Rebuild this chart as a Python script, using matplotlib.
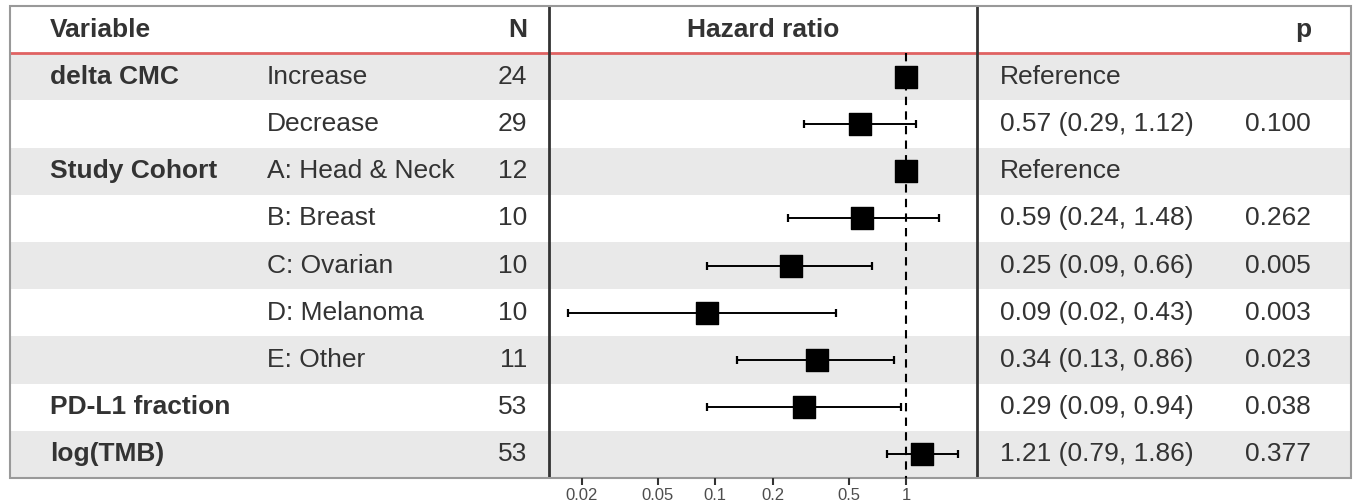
import numpy as np
import matplotlib.pyplot as plt
from matplotlib.ticker import FixedLocator, NullLocator

plt.rcParams['font.family'] = ['Liberation Sans', 'DejaVu Sans']

variables = ['delta CMC', '', 'Study Cohort', '', '', '', '', 'PD-L1 fraction', 'log(TMB)']
levels = ['Increase', 'Decrease', 'A: Head & Neck', 'B: Breast', 'C: Ovarian',
          'D: Melanoma', 'E: Other', '', '']
n_obs = [24, 29, 12, 10, 10, 10, 11, 53, 53]
hr = [1.0, 0.57, 1.0, 0.59, 0.25, 0.09, 0.34, 0.29, 1.21]
ci_low = [np.nan, 0.29, np.nan, 0.24, 0.09, 0.017, 0.13, 0.09, 0.79]
ci_high = [np.nan, 1.12, np.nan, 1.48, 0.66, 0.43, 0.86, 0.94, 1.86]
p_values = ['', '0.100', '', '0.262', '0.005', '0.003', '0.023', '0.038', '0.377']
is_reference = [True, False, True, False, False, False, False, False, False]
x_ticks = [0.02, 0.05, 0.1, 0.2, 0.5, 1]
x_tick_labels = ['0.02', '0.05', '0.1', '0.2', '0.5', '1']

W, H = 1356, 504
fig = plt.figure(figsize=(W / 100, H / 100), dpi=100)

def px_rect(x0, y0, x1, y1):
    return [x0 / W, 1 - y1 / H, (x1 - x0) / W, (y1 - y0) / H]

left, right, top, bottom = 10, 1351, 6, 478
split1, split2 = 549, 977
nrows = len(levels)
ylim = (nrows + 0.5, -0.5)

text_color = '#333333'
fs = 19

# background table, x in pixels
bg = fig.add_axes(px_rect(left, top, right, bottom))
bg.set_xlim(left, right)
bg.set_ylim(*ylim)
bg.axis('off')
for i in range(nrows):
    if i % 2 == 0:
        bg.axhspan(i + 0.5, i + 1.5, color='#e9e9e9', lw=0, zorder=0)
bg.axhline(0.5, color='#e06262', lw=2, zorder=3)
for xs in (split1, split2):
    bg.axvline(xs, color='#333333', lw=2, zorder=3)
bg.add_patch(plt.Rectangle((left, -0.5), right - left, nrows + 1, fill=False,
                           ec='#999999', lw=1.5, zorder=4, clip_on=False))

# header
bg.text(50, 0, 'Variable', ha='left', va='center', fontsize=fs, weight='bold', color=text_color)
bg.text(527, 0, 'N', ha='right', va='center', fontsize=fs, weight='bold', color=text_color)
bg.text((split1 + split2) / 2, 0, 'Hazard ratio', ha='center', va='center', fontsize=fs,
        weight='bold', color=text_color)
bg.text(1311, 0, 'p', ha='right', va='center', fontsize=fs, weight='bold', color=text_color)

for i in range(nrows):
    y = i + 1
    bg.text(50, y, variables[i], ha='left', va='center', fontsize=fs, weight='bold', color=text_color)
    bg.text(267, y, levels[i], ha='left', va='center', fontsize=fs, color=text_color)
    bg.text(527, y, str(n_obs[i]), ha='right', va='center', fontsize=fs, color=text_color)
    if is_reference[i]:
        est = 'Reference'
    else:
        est = f'{hr[i]:.2f} ({ci_low[i]:.2f}, {ci_high[i]:.2f})'
    bg.text(1000, y, est, ha='left', va='center', fontsize=fs, color=text_color)
    bg.text(1311, y, p_values[i], ha='right', va='center', fontsize=fs, color=text_color)

# forest plot
ax = fig.add_axes(px_rect(split1, top, split2, bottom))
ax.patch.set_alpha(0)
ax.set_xscale('log')
ax.set_xlim(0.01346, 2.35)
ax.set_ylim(*ylim)
for s in ax.spines.values():
    s.set_visible(False)
ax.yaxis.set_major_locator(NullLocator())
ax.xaxis.set_major_locator(FixedLocator(x_ticks))
ax.xaxis.set_minor_locator(NullLocator())
ax.set_xticklabels(x_tick_labels)
ax.tick_params(axis='x', length=5, width=1.5, color='#333333', labelsize=12,
               labelcolor='#4d4d4d', pad=2)

# reference line only through the body rows
ax.vlines(1, 0.5, nrows + 0.5, color='black', lw=1.5, ls=(0, (4, 3)), zorder=2)

rows = np.arange(1, nrows + 1)
hr_arr = np.array(hr)
lo_arr = np.array(ci_low)
hi_arr = np.array(ci_high)
mask = ~np.isnan(lo_arr)
ax.errorbar(hr_arr[mask], rows[mask],
            xerr=[hr_arr[mask] - lo_arr[mask], hi_arr[mask] - hr_arr[mask]],
            fmt='none', ecolor='black', elinewidth=1.4, capsize=3, capthick=1.6, zorder=3)
ax.scatter(hr_arr, rows, marker='s', s=16 ** 2, color='black', zorder=4)

fig.savefig('out.png', dpi=100)
